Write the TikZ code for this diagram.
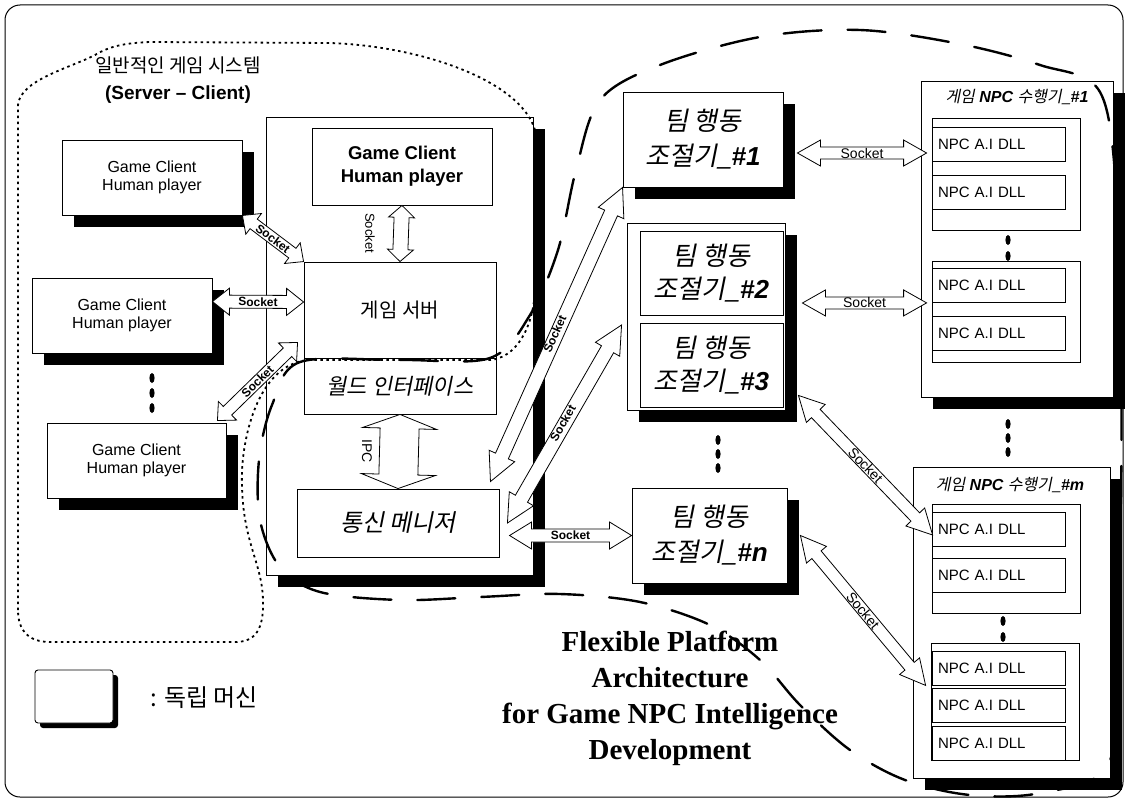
\documentclass[tikz,border=0pt]{standalone}
\usepackage{fontspec}
\setmainfont{Liberation Sans}
\newfontfamily\kr{Noto Sans CJK KR}
\newfontfamily\krit[FakeSlant=0.2]{Noto Sans CJK KR}
\newfontfamily\tms{Liberation Serif}
\usetikzlibrary{calc,shadows}
\newcommand{\fsz}[2]{\fontsize{#1}{#2}\selectfont}
\newcommand{\dblarr}[7]{%
  \coordinate (dbA) at (#1);
  \coordinate (dbB) at (#2);
  \coordinate (dbHA) at ($(dbA)!#3pt!(dbB)$);
  \coordinate (dbHB) at ($(dbB)!#3pt!(dbA)$);
  \draw[arr] (dbA) -- ($(dbHA)!#4pt!90:(dbB)$) -- ($(dbHA)!#5pt!90:(dbB)$)
    -- ($(dbHB)!#5pt!-90:(dbA)$) -- ($(dbHB)!#4pt!-90:(dbA)$) -- (dbB)
    -- ($(dbHB)!#4pt!90:(dbA)$) -- ($(dbHB)!#5pt!90:(dbA)$)
    -- ($(dbHA)!#5pt!-90:(dbB)$) -- ($(dbHA)!#4pt!-90:(dbB)$) -- cycle;
  \path (dbA) -- (dbB) node[midway, sloped, #6] {#7};
}
\begin{document}
\begin{tikzpicture}[x=1pt,y=-1pt,
  box/.style={draw, line width=0.9pt, fill=white, inner sep=0pt, align=center},
  shad/.style={drop shadow={shadow xshift=12pt, shadow yshift=-12pt, opacity=1, fill=black}},
  arr/.style={draw, line width=0.8pt, fill=white, line join=miter},
  sockb/.style={font=\bfseries\fsz{12}{12}, inner sep=0pt},
  sockr/.style={font=\fsz{14}{14}, inner sep=0pt},
  dll/.style={box, line width=0.8pt, minimum width=133, minimum height=34, font=\fsz{15}{15}, text width=121, align=left},
  grp/.style={box, line width=0.8pt, minimum width=148},
  team/.style={box, shad, font=\krit\fsz{26}{35}},
  client/.style={box, shad, minimum width=180, minimum height=75, font=\fsz{16}{18}},
]
\useasboundingbox (0,0) rectangle (1127,800);
\draw[line width=1pt, rounded corners=15pt] (5,5) rectangle (1123,797);

% ---------- general game system ----------
\node[client] (c1) at (152,177.5) {Game Client\\Human player};
\node[client] (c2) at (122,315.5) {Game Client\\Human player};
\node[client, minimum width=179] (c3) at (136.5,460.5) {Game Client\\Human player};
\fill (152,378) ellipse [x radius=2.6pt, y radius=5pt];
\fill (152,393) ellipse [x radius=2.6pt, y radius=5pt];
\fill (152,408) ellipse [x radius=2.6pt, y radius=5pt];

\node[box, shad, minimum width=267, minimum height=458] (sv) at (399.5,346) {};
\node[box, minimum width=180, minimum height=77, font=\bfseries\fsz{18.5}{23}] (gc) at (402,166.5) {Game Client\\Human player};
\node[box, minimum width=192, minimum height=96, font=\kr\fsz{20}{20}] (gs) at (400,310) {게임 서버};
\node[box, minimum width=192, minimum height=56, font=\krit\fsz{22}{22}] (wi) at (400,386) {월드 인터페이스};
\node[box, minimum width=202, minimum height=68, font=\krit\fsz{24}{24}] (tm) at (398,523) {통신 메니저};

\node[font=\kr\fsz{19}{19}] (sct) at (178,65) {일반적인 게임 시스템};
\node[font=\bfseries\fsz{19}{19}] (scs) at (178,95) {(Server – Client)};

% ---------- team controllers ----------
\node[team, minimum width=160, minimum height=95] (t1) at (703,139.5) {팀 행동\\조절기\_{\rmfamily\bfseries\itshape\#1}};
\node[box, shad, minimum width=158, minimum height=187] (t23) at (706,316.5) {};
\node[box, minimum width=143, minimum height=84, font=\krit\fsz{26}{33}] (t2) at (711.5,273) {팀 행동\\조절기\_{\rmfamily\bfseries\itshape\#2}};
\node[box, minimum width=143, minimum height=84, font=\krit\fsz{26}{33}] (t3) at (711.5,365) {팀 행동\\조절기\_{\rmfamily\bfseries\itshape\#3}};
\fill (718,440) ellipse [x radius=2.6pt, y radius=5pt];
\fill (718,454) ellipse [x radius=2.6pt, y radius=5pt];
\fill (718,468) ellipse [x radius=2.6pt, y radius=5pt];
\node[team, minimum width=155, minimum height=95] (tn) at (709.5,535.5) {팀 행동\\조절기\_{\rmfamily\bfseries\itshape\#n}};

% ---------- NPC executors ----------
\node[box, shad, minimum width=192, minimum height=316] (n1) at (1017,239) {};
\node[font=\fsz{16}{16}, inner sep=0pt] (n1t) at (1017,97) {{\krit 게임} {\bfseries\itshape NPC} {\krit 수행기\_}{\bfseries\itshape\#1}};
\node[grp, minimum height=112] (g1) at (1006,174) {};
\node[dll] (d1) at (998.5,144.5) {NPC A.I DLL};
\node[dll] (d2) at (998.5,192) {NPC A.I DLL};
\fill (1008,240) ellipse [x radius=2.6pt, y radius=5pt];
\fill (1008,256) ellipse [x radius=2.6pt, y radius=5pt];
\node[grp, minimum height=101] (g2) at (1006,311.5) {};
\node[dll] (d3) at (998.5,285.5) {NPC A.I DLL};
\node[dll] (d4) at (998.5,333.5) {NPC A.I DLL};

\fill (1008,424) ellipse [x radius=2.6pt, y radius=5pt];
\fill (1008,438) ellipse [x radius=2.6pt, y radius=5pt];
\fill (1008,452) ellipse [x radius=2.6pt, y radius=5pt];

\node[box, shad, minimum width=197, minimum height=311] (nm) at (1011.5,622.5) {};
\node[font=\fsz{16}{16}, inner sep=0pt] (nmt) at (1010,485) {{\krit 게임} {\bfseries\itshape NPC} {\krit 수행기\_}{\bfseries\itshape\#m}};
\node[grp, minimum height=109] (g3) at (1006,558.5) {};
\node[dll] (d5) at (998.5,529) {NPC A.I DLL};
\node[dll] (d6) at (998.5,575.5) {NPC A.I DLL};
\fill (1003,621) ellipse [x radius=2.6pt, y radius=5pt];
\fill (1003,637) ellipse [x radius=2.6pt, y radius=5pt];
\node[grp, minimum height=117] (g4) at (1005.5,701.5) {};
\node[dll] (d7) at (998.5,668) {NPC A.I DLL};
\node[dll] (d8) at (998.5,705) {NPC A.I DLL};
\node[dll] (d9) at (998.5,743) {NPC A.I DLL};

% ---------- legend ----------
\node[box, rounded corners=3pt, minimum width=78, minimum height=53,
  drop shadow={shadow xshift=5pt, shadow yshift=-5pt, opacity=1, fill=black}] (lg) at (74,696.5) {};
\node[anchor=west, font=\kr\fsz{24}{24}, inner sep=0pt] (lgt) at (150,698) {: 독립 머신};

% ---------- title ----------
\node[font=\tms\bfseries\fsz{29}{36}, align=center] (fp) at (670,698) {Flexible Platform\\Architecture\\for Game NPC Intelligence\\Development};

% ---------- connectors ----------
\dblarr{c1.south east}{gs.north west}{14}{13}{6}{sockb}{Socket}
\dblarr{$(c2.north east)+(0,24)$}{$(gs.west)+(0,-8)$}{17}{13.5}{6.5}{sockb}{Socket}
\dblarr{$(c3.north east)+(-9,-2)$}{$(gs.south west)+(-6,-16)$}{14}{13}{6}{sockb}{Socket}
\dblarr{gc.south}{gs.north}{12}{13}{7.5}{}{}
\node[rotate=-90, font=\fsz{13}{13}, inner sep=0pt] (sk) at (370,233) {Socket};
\dblarr{wi.south}{tm.north}{14}{37}{19.5}{}{}
\node[rotate=-90, font=\fsz{14}{14}, inner sep=0pt] (ipc) at (367,451) {IPC};
\dblarr{$(tm.north east)+(-9,-7)$}{t1.south west}{28}{14}{7}{sockb, yshift=2pt}{Socket}
\dblarr{$(tm.east)+(8,0)$}{$(t23.west)+(-5,8.5)$}{28}{14}{7}{sockb, yshift=2pt}{Socket}
\dblarr{$(tn.west)+(-122,0)$}{tn.west}{22}{13.5}{6.5}{sockb}{Socket}
\dblarr{$(t1.east)+(14,13.5)$}{$(d1.west)+(-5,8.5)$}{23}{13}{6}{sockr}{Socket}
\dblarr{$(t2.east)+(19,30)$}{$(d3.south west)+(-5,0)$}{23}{13}{6}{sockr}{Socket}
\dblarr{$(t3.south east)+(15,-12)$}{$(d5.west)+(1,6)$}{25}{13}{6}{sockr}{Socket}
\dblarr{$(tn.east)+(13,0)$}{$(d7.south west)+(-6,0)$}{25}{13}{6}{sockr}{Socket}

% ---------- region outlines ----------
\draw[line width=1.8pt, dash pattern=on 2.5pt off 3.5pt]
  (18,610) -- (18,105) .. controls (20,80) and (70,68) .. (95,55)
  .. controls (110,46) and (125,43) .. (150,42) -- (330,43)
  .. controls (420,46) and (520,80) .. (535,130) -- (535,290)
  .. controls (533,330) and (515,358) .. (490,360) -- (310,360)
  .. controls (265,362) and (245,420) .. (242,470)
  .. controls (240,540) and (262,560) .. (263,600)
  .. controls (264,630) and (255,642) .. (235,642) -- (50,642)
  .. controls (28,642) and (18,630) .. (18,610);
\draw[line width=2.4pt, line cap=round, dash pattern=on 38pt off 26pt]
  plot[smooth cycle, tension=0.55] coordinates {
  (300,362) (400,360) (490,358) (530,315) (558,250) (576,170) (600,100) (660,65)
  (760,37) (860,30) (960,44) (1040,65) (1100,92) (1117,200) (1121,350) (1121,500)
  (1117,650) (1108,765) (1040,793) (970,795) (905,780) (850,750) (800,705) (760,660)
  (710,625) (640,602) (560,594) (480,597) (400,600) (320,592) (280,567) (260,520)
  (259,460) (272,405)};
\end{tikzpicture}
\end{document}
